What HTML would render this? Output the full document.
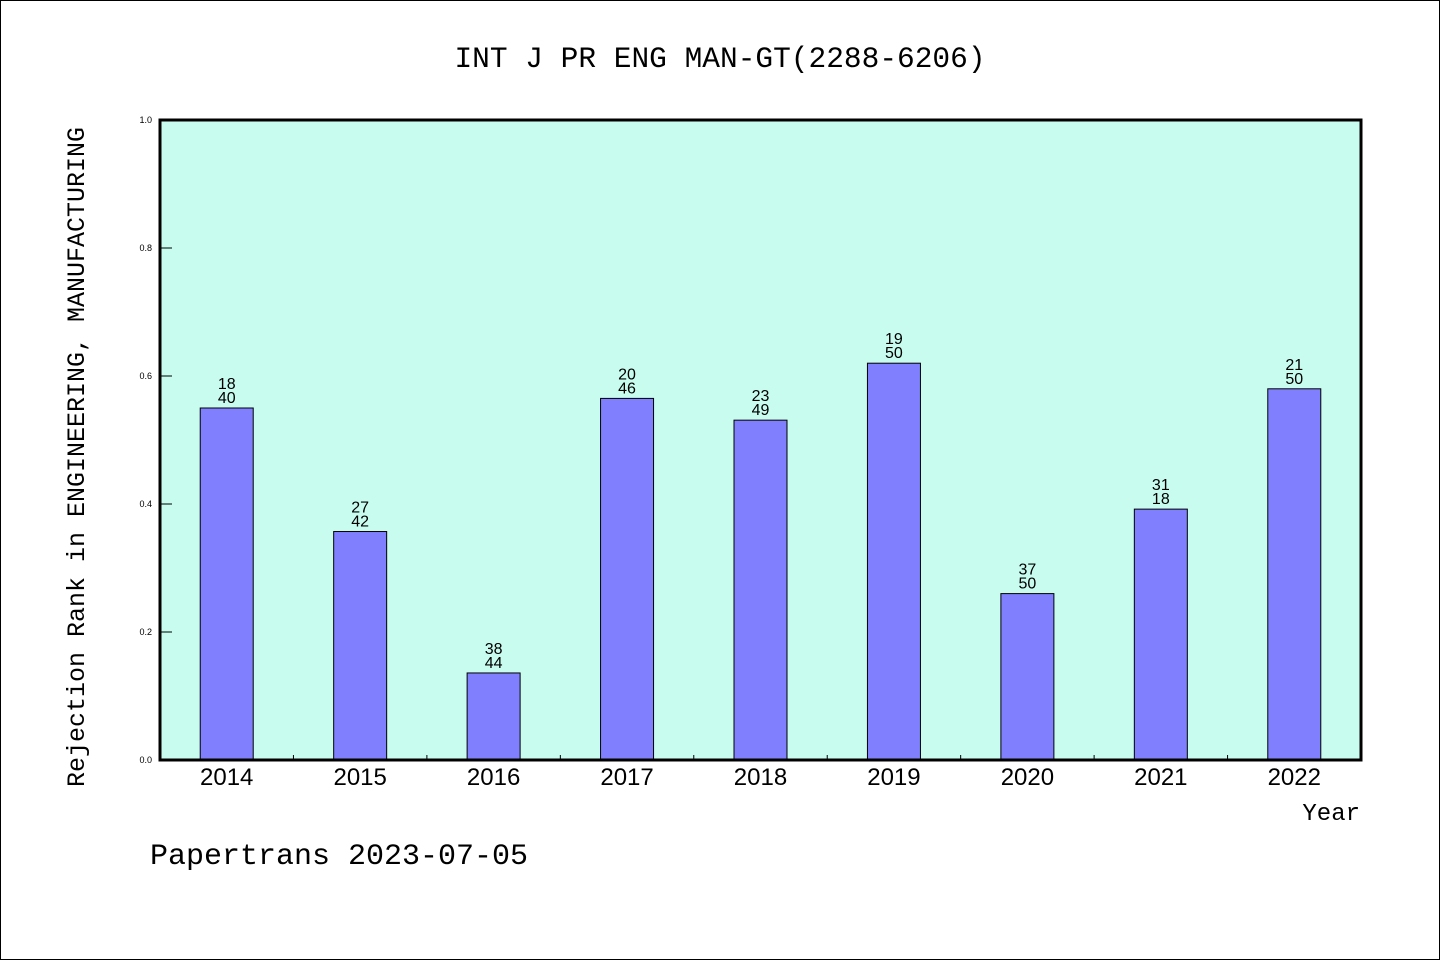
<!DOCTYPE html>
<html><head><meta charset="utf-8"><style>
html,body{margin:0;padding:0;background:#fff;}
svg{display:block;}
</style></head><body>
<svg id="chart" width="1440" height="960" xmlns="http://www.w3.org/2000/svg">
<rect x="0.5" y="0.5" width="1439" height="959" fill="#fff" stroke="#000" stroke-width="1"/>
<text x="720" y="67" text-anchor="middle" font-family="Liberation Mono, monospace" font-size="29.5" fill="#000">INT J PR ENG MAN-GT(2288-6206)</text>
<rect x="160" y="120" width="1201" height="640" fill="#c8fcef"/>
<g id="bars"></g>
<g id="ticks"></g>
<rect x="160" y="120" width="1201" height="640" fill="none" stroke="#000" stroke-width="3"/>
<text transform="translate(84,457) rotate(-90)" text-anchor="middle" font-family="Liberation Mono, monospace" font-size="25" fill="#000">Rejection Rank in ENGINEERING, MANUFACTURING</text>
<text x="1360" y="820" text-anchor="end" font-family="Liberation Mono, monospace" font-size="24" fill="#000">Year</text>
<text x="150" y="864" font-family="Liberation Mono, monospace" font-size="30" fill="#000">Papertrans 2023-07-05</text>
</svg>
<script>
const categories = ["2014","2015","2016","2017","2018","2019","2020","2021","2022"];
const values = [0.55,0.357,0.136,0.565,0.531,0.62,0.26,0.392,0.58];
const rankLabels = ["18","27","38","20","23","19","37","31","21"];
const totalLabels = ["40","42","44","46","49","50","50","18","50"];
const yTicks = [0,0.2,0.4,0.6,0.8,1.0];
const yTickLabels = ["0.0","0.2","0.4","0.6","0.8","1.0"];

const NS="http://www.w3.org/2000/svg";
const L=160,R=1361,T=120,B=760;
const band=(R-L)/categories.length;
function xC(i){return L+band*(i+0.5);}
function y(v){return B-(B-T)*v;}
const bars=document.getElementById('bars'), ticks=document.getElementById('ticks');
function mk(tag,attrs,parent){const e=document.createElementNS(NS,tag);for(const k in attrs)e.setAttribute(k,attrs[k]);parent.appendChild(e);return e;}
const bw=53;
categories.forEach((c,i)=>{
  const r=mk('rect',{x:xC(i)-bw/2,y:y(values[i]),width:bw,height:B-y(values[i]),fill:'#8080ff',stroke:'#000','stroke-width':1},bars);
  
  
  const t1=mk('text',{x:xC(i),y:y(values[i])-19,'text-anchor':'middle','font-family':'Liberation Sans, sans-serif','font-size':16},bars);
  t1.textContent=rankLabels[i];
  
  
  const t2=mk('text',{x:xC(i),y:y(values[i])-5,'text-anchor':'middle','font-family':'Liberation Sans, sans-serif','font-size':16},bars);
  t2.textContent=totalLabels[i];
  
  
  const xl=mk('text',{x:xC(i),y:B+25,'text-anchor':'middle','font-family':'Liberation Sans, sans-serif','font-size':24},ticks);
  xl.textContent=c;
  
  
  if(i>0){
    const tk=mk('line',{x1:L+band*i,x2:L+band*i,y1:B,y2:B-5,stroke:'#000','stroke-width':1},ticks);
    
    
  }
});
yTicks.forEach((v,i)=>{
  const tk=mk('line',{x1:L,x2:L+12,y1:y(v),y2:y(v),stroke:'#000','stroke-width':1},ticks);
  
  
  const tl=mk('text',{x:152,y:y(v)+3,'text-anchor':'end','font-family':'Liberation Sans, sans-serif','font-size':9},ticks);
  tl.textContent=yTickLabels[i];
  
  
});
</script>
</body></html>
